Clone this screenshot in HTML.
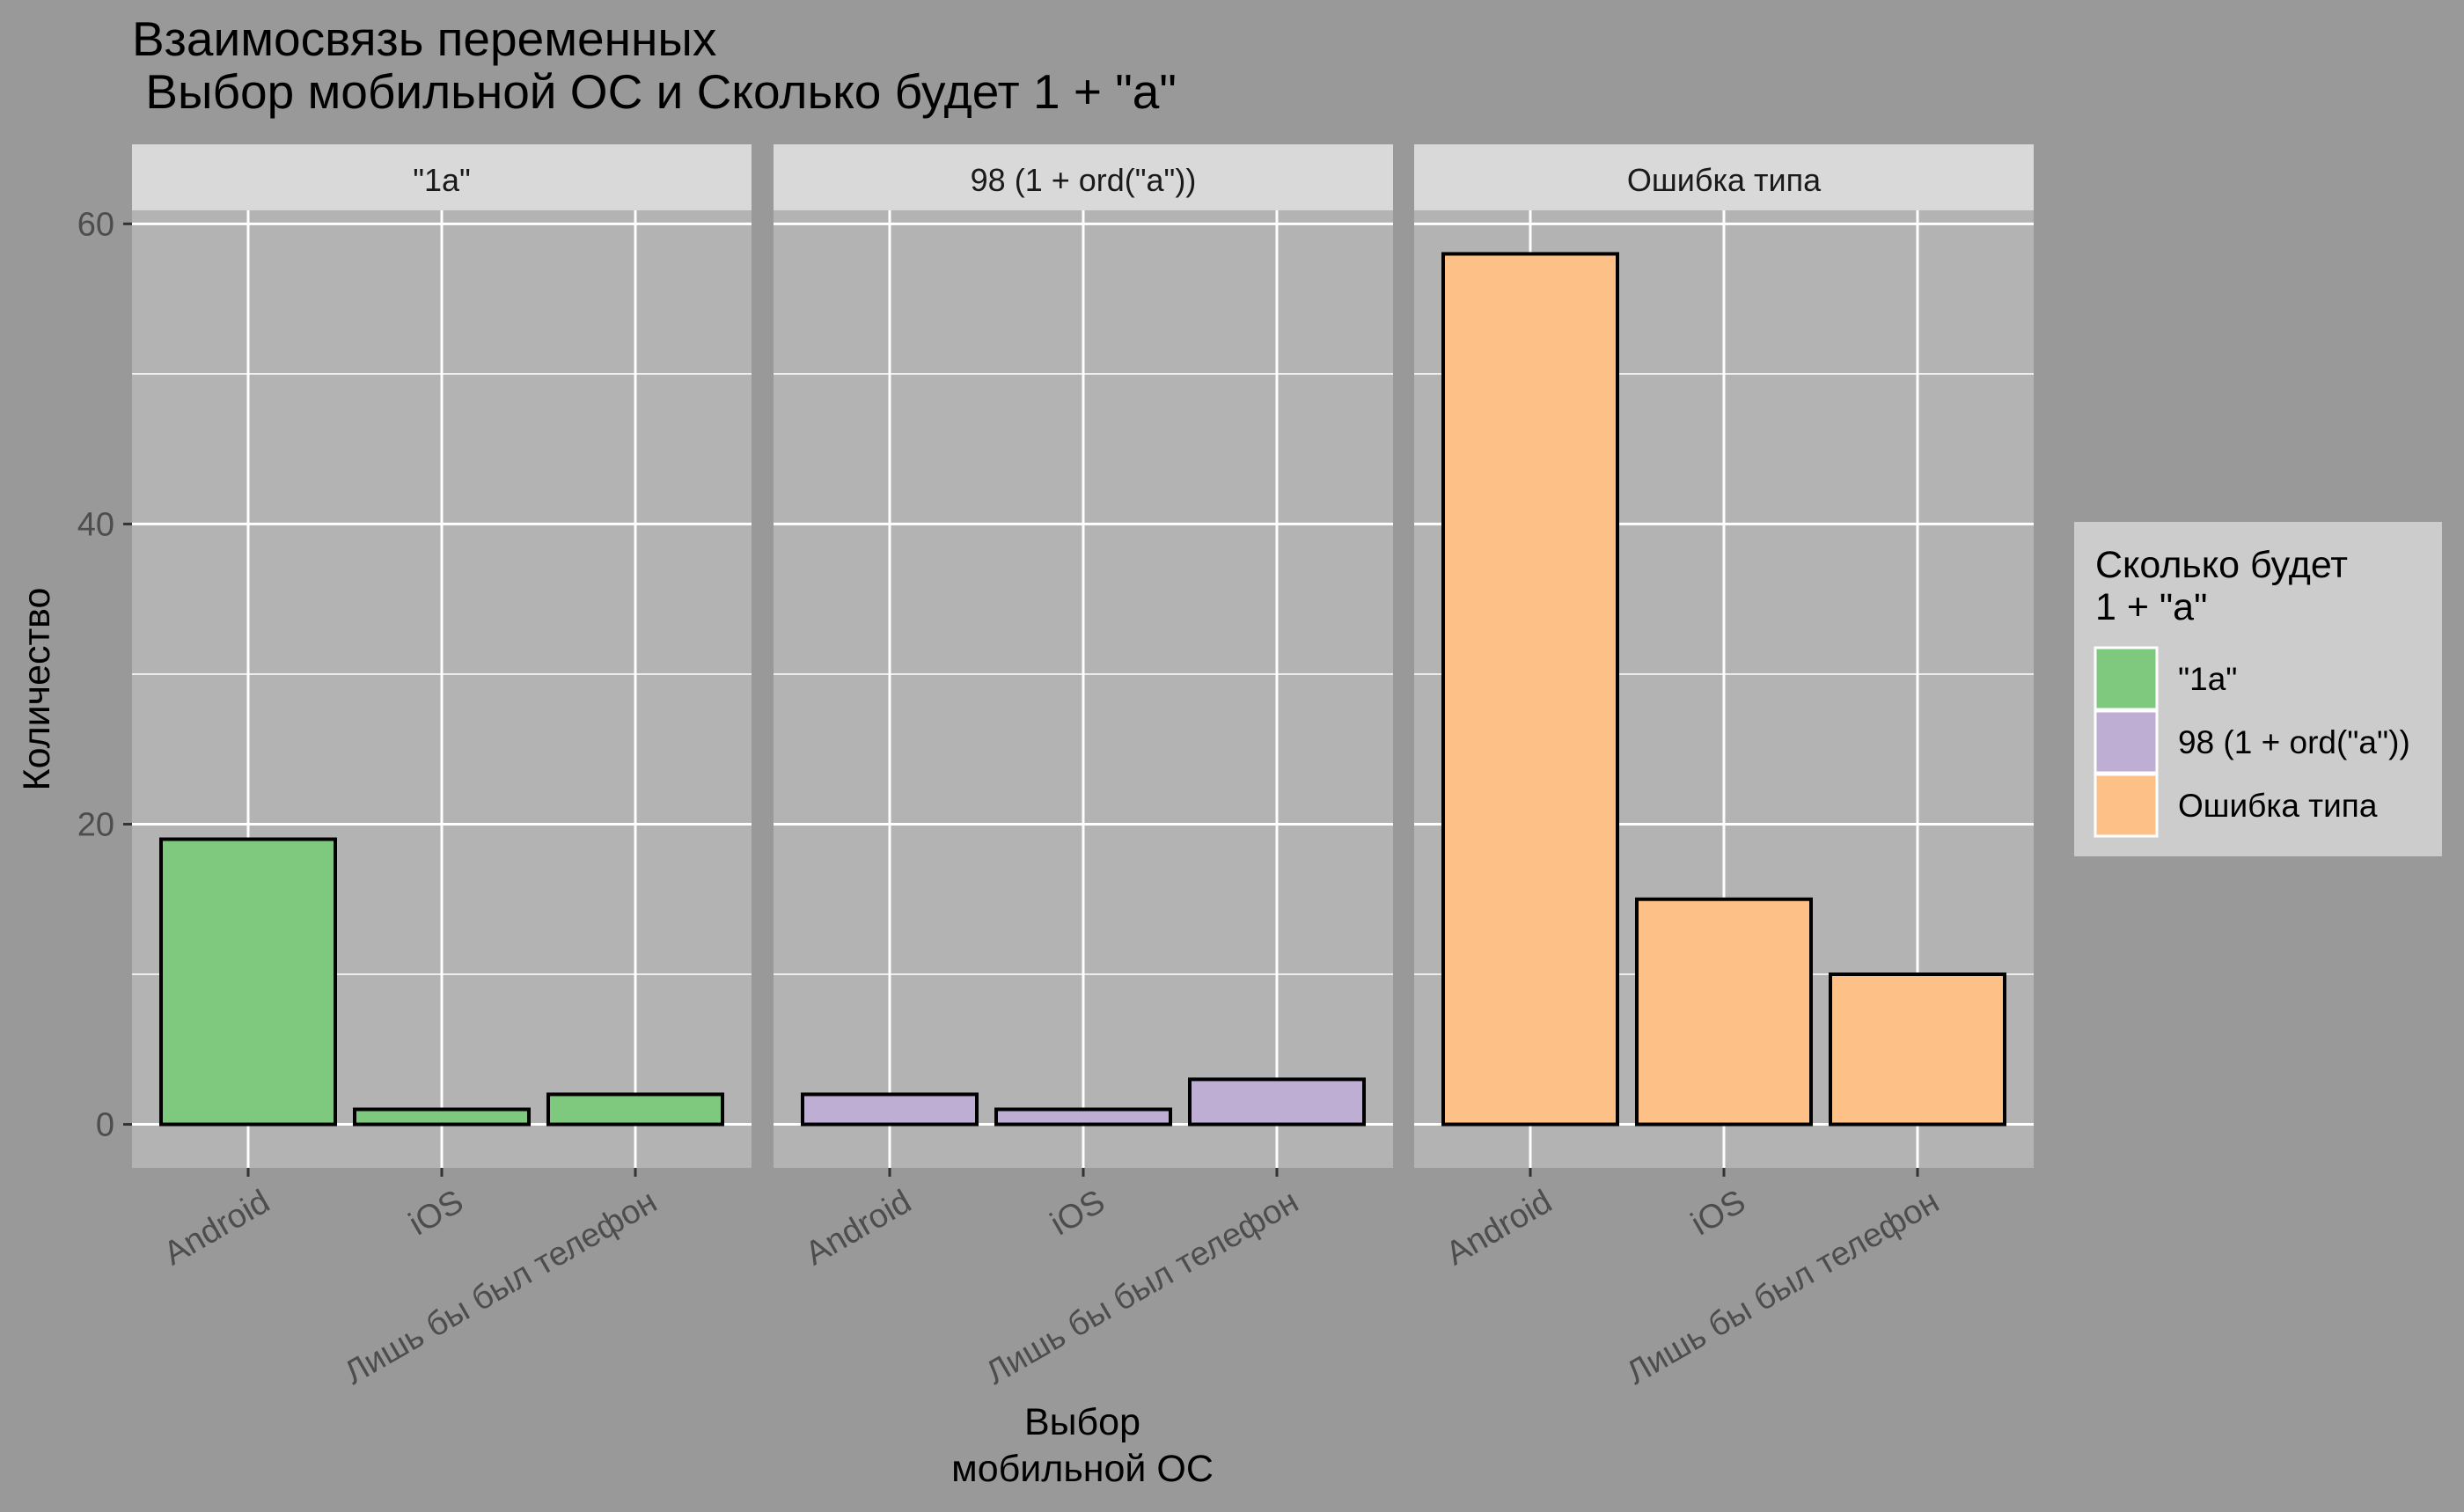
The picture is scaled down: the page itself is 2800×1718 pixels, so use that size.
<!DOCTYPE html>
<html><head><meta charset="utf-8"><style>
html,body{margin:0;padding:0;background:#999999;}
svg{display:block;font-family:"Liberation Sans","DejaVu Sans",sans-serif;}
</style></head><body>
<svg id="chart" width="2800" height="1718" viewBox="0 0 2800 1718" xmlns="http://www.w3.org/2000/svg">
<rect x="0" y="0" width="2800" height="1718" fill="#999999"/>
<text x="150" y="63" font-size="55" fill="#000">Взаимосвязь переменных</text>
<text x="150" y="123" font-size="55" fill="#000" xml:space="preserve"> Выбор мобильной ОС и Сколько будет 1 + "а"</text>
<text transform="translate(56,783) rotate(-90)" text-anchor="middle" font-size="43" fill="#000">Количество</text>
<text x="1230" y="1630" text-anchor="middle" font-size="43" fill="#000">Выбор</text>
<text x="1230" y="1683" text-anchor="middle" font-size="43" fill="#000">мобильной ОС</text>
<g id="panels"></g>
<g>
<rect x="2357" y="593" width="418" height="380" fill="#cccccc"/>
<text x="2381" y="656" font-size="43" fill="#000">Сколько будет</text>
<text x="2381" y="704" font-size="43" fill="#000">1 + "а"</text>
<g id="legend-entries"></g>
</g>
</svg>
<script>
const facets = ['"1а"', '98 (1 + ord("а"))', 'Ошибка типа'];
const categories = ['Android', 'iOS', 'Лишь бы был телефон'];
const values1a = [19, 1, 2];
const values98 = [2, 1, 3];
const valuesErr = [58, 15, 10];
const yTicks = [0, 20, 40, 60];
const yMinor = [10, 30, 50];
const colors = ['#7fc97f', '#beaed4', '#fdc086'];
const series = [values1a, values98, valuesErr];

const NS = 'http://www.w3.org/2000/svg';
const panelX = [150, 879, 1607], panelW = 704;
const plotTop = 239, plotBot = 1327, stripTop = 164;
const yMin = -2.9, yMax = 60.9;
function yScale(v){ return plotBot - (v - yMin) / (yMax - yMin) * (plotBot - plotTop); }
function xScale(p, i){ const step = panelW / (categories.length - 1 + 1.2); return panelX[p] + (0.6 + i) * step; }
function mk(tag, attrs, parent){ const e = document.createElementNS(NS, tag); for (const k in attrs) e.setAttribute(k, attrs[k]); parent.appendChild(e); return e; }
const g = document.getElementById('panels');
const step = panelW / (categories.length + 0.2);

facets.forEach((f, p) => {
  const px = panelX[p];
  const bg = mk('rect', {x: px, y: plotTop, width: panelW, height: plotBot - plotTop, fill: '#b3b3b3'}, g);
  
  
  const st = mk('rect', {x: px, y: stripTop, width: panelW, height: plotTop - stripTop, fill: '#d9d9d9'}, g);
  
  
  const stt = mk('text', {x: px + panelW / 2, y: 217, 'text-anchor': 'middle', 'font-size': 36, fill: '#1a1a1a'}, g);
  stt.textContent = f;
  
  
  yMinor.forEach(v => {
    const l = mk('line', {x1: px, x2: px + panelW, y1: yScale(v), y2: yScale(v), stroke: '#fff', 'stroke-width': 1.5}, g);
    
    
  });
  yTicks.forEach(v => {
    const l = mk('line', {x1: px, x2: px + panelW, y1: yScale(v), y2: yScale(v), stroke: '#fff', 'stroke-width': 3}, g);
    
    
  });
  categories.forEach((c, i) => {
    const x = xScale(p, i);
    const l = mk('line', {x1: x, x2: x, y1: plotTop, y2: plotBot, stroke: '#fff', 'stroke-width': 3}, g);
    
    
    const t = mk('line', {x1: x, x2: x, y1: plotBot, y2: plotBot + 10, stroke: '#333', 'stroke-width': 3}, g);
    
    
  });
  series[p].forEach((v, i) => {
    const x = xScale(p, i), w = step * 0.9;
    const r = mk('rect', {x: x - w / 2, y: yScale(v), width: w, height: yScale(0) - yScale(v), fill: colors[p], stroke: '#000', 'stroke-width': 4}, g);
    
    
  });
  categories.forEach((c, i) => {
    const x = xScale(p, i) + 14, y = 1350;
    const t = mk('text', {x: x, y: y, 'text-anchor': 'end', 'dominant-baseline': 'hanging', 'font-size': 38, fill: '#4d4d4d', transform: 'rotate(-30 ' + x + ' ' + y + ')'}, g);
    t.textContent = c;
    
    
  });
});
yTicks.forEach(v => {
  const t = mk('line', {x1: 140, x2: 150, y1: yScale(v), y2: yScale(v), stroke: '#333', 'stroke-width': 3}, g);
  
  
  const l = mk('text', {x: 130, y: yScale(v) + 13, 'text-anchor': 'end', 'font-size': 38, fill: '#4d4d4d'}, g);
  l.textContent = v;
  
  
});
const lg = document.getElementById('legend-entries');
facets.forEach((f, i) => {
  const y = 736 + i * 72;
  const k = mk('rect', {x: 2381, y: y, width: 70, height: 70, fill: colors[i], stroke: '#fff', 'stroke-width': 3}, lg);
  
  
  const t = mk('text', {x: 2475, y: y + 48, 'font-size': 37, fill: '#000'}, lg);
  t.textContent = f;
  
  
});
</script>
</body></html>
